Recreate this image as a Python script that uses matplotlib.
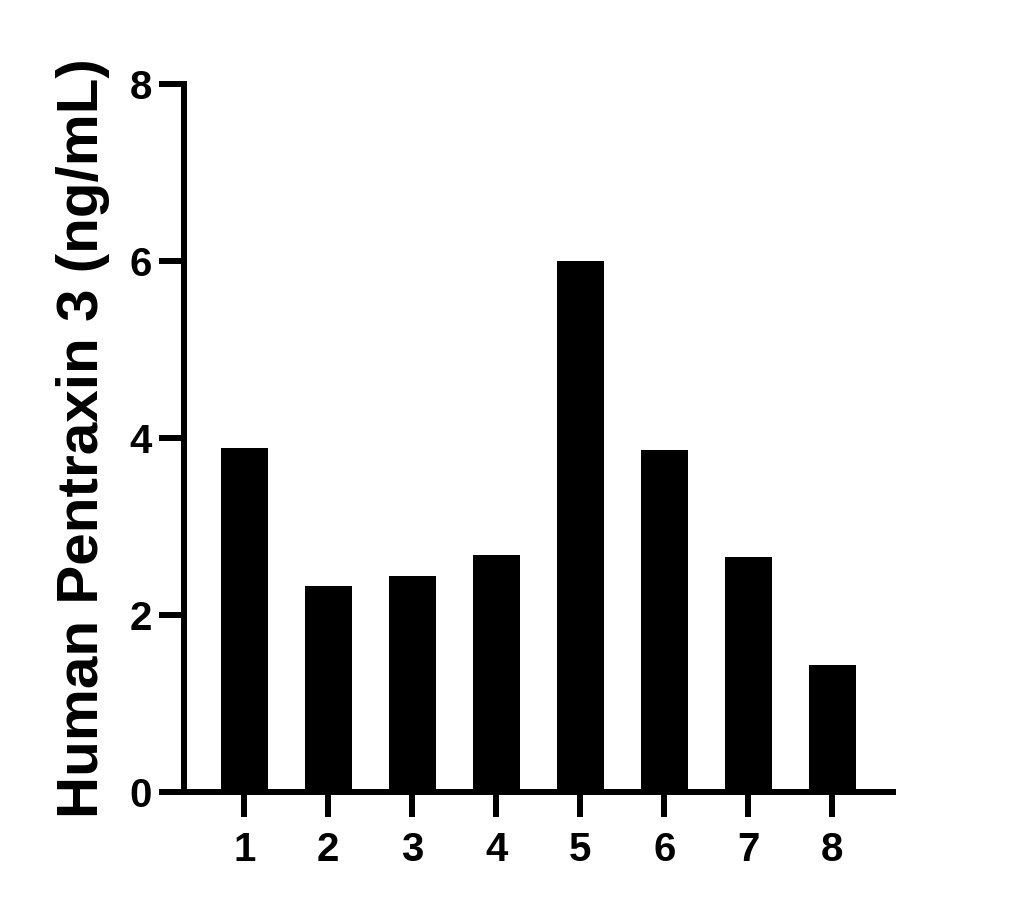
import matplotlib
matplotlib.use("Agg")
import matplotlib.pyplot as plt

samples = ["1", "2", "3", "4", "5", "6", "7", "8"]
ptx3_ng_ml = [3.89, 2.33, 2.44, 2.68, 6.0, 3.86, 2.66, 1.44]
y_ticks = [0, 2, 4, 6, 8]

plt.rcParams["font.family"] = ["Liberation Sans", "DejaVu Sans"]
plt.rcParams["font.weight"] = "bold"

fig = plt.figure(figsize=(10.26, 9.09), dpi=100)
ax = fig.add_axes([0.1793, 0.1287, 0.6910, 0.7789])

positions = list(range(1, len(samples) + 1))
ax.bar(positions, ptx3_ng_ml, width=0.556, color="black", edgecolor="black", linewidth=0)

ax.set_xlim(0.282, 8.72)
ax.set_ylim(0, 8)
ax.set_xticks(positions)
ax.set_xticklabels(samples)
ax.set_yticks(y_ticks)

for side in ("top", "right"):
    ax.spines[side].set_visible(False)
for side in ("left", "bottom"):
    ax.spines[side].set_linewidth(4.3)
    ax.spines[side].set_capstyle("projecting")

ax.tick_params(axis="both", direction="out", length=18, width=4.3, labelsize=29)
ax.tick_params(axis="x", pad=10)
ax.tick_params(axis="y", pad=5)
for label in ax.get_xticklabels() + ax.get_yticklabels():
    label.set_fontweight("bold")

ax.set_ylabel("Human Pentraxin 3 (ng/mL)", fontsize=42, fontweight="bold", labelpad=14)

fig.savefig("out.png", dpi=100, facecolor="white")
